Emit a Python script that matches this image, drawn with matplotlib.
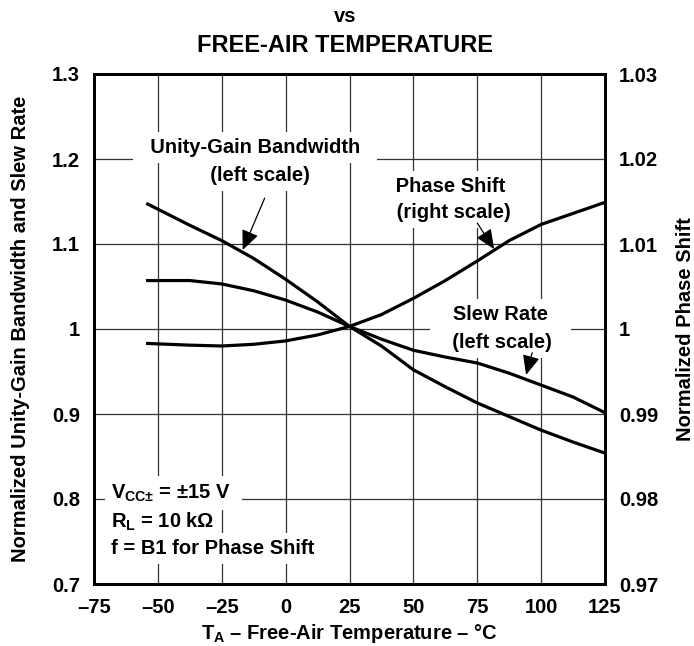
import matplotlib
matplotlib.use("Agg")
import matplotlib.pyplot as plt

plt.rcParams['font.family'] = ['Liberation Sans', 'DejaVu Sans']
plt.rcParams['font.weight'] = 'bold'
plt.rcParams['axes.labelweight'] = 'bold'
plt.rcParams['mathtext.fontset'] = 'custom'
plt.rcParams['mathtext.rm'] = 'Liberation Sans:bold'
plt.rcParams['mathtext.it'] = 'Liberation Sans:bold'
plt.rcParams['mathtext.bf'] = 'Liberation Sans:bold'

# values
temp = [-54, -37.5, -25, -12.5, 0, 12.5, 25, 37.5, 50, 62.5, 75, 87.5, 100, 112.5, 125]
ugb = [1.147, 1.122, 1.104, 1.083, 1.0585, 1.032, 1.003, 0.980, 0.952, 0.932, 0.913, 0.897, 0.881, 0.867, 0.854]
slew = [1.057, 1.057, 1.053, 1.045, 1.034, 1.020, 1.003, 0.988, 0.975, 0.967, 0.960, 0.948, 0.934, 0.920, 0.9015]
phase = [0.9983, 0.9981, 0.9980, 0.9982, 0.9986, 0.9993, 1.0003, 1.0017, 1.0036, 1.0057, 1.0080, 1.0104, 1.0123, 1.0136, 1.0149]

xticks = [-75, -50, -25, 0, 25, 50, 75, 100, 125]
left_ticks = [0.7, 0.8, 0.9, 1.0, 1.1, 1.2, 1.3]
left_labels = ['0.7', '0.8', '0.9', '1', '1.1', '1.2', '1.3']
right_ticks = [0.97, 0.98, 0.99, 1.0, 1.01, 1.02, 1.03]
right_labels = ['0.97', '0.98', '0.99', '1', '1.01', '1.02', '1.03']

fs = 14.5
fig = plt.figure(figsize=(6.94, 6.46), dpi=100)
ax = fig.add_axes([94 / 694, 1 - 584 / 646, 511 / 694, 510 / 646])
ax2 = ax.twinx()

ax.set_xlim(-75, 125)
ax.set_ylim(0.7, 1.3)
ax2.set_ylim(0.97, 1.03)
ax.set_xticks(xticks)
ax.set_xticklabels(['\u2013%d' % -t if t < 0 else str(t) for t in xticks])
ax.set_yticks(left_ticks)
ax.set_yticklabels(left_labels)
ax2.set_yticks(right_ticks)
ax2.set_yticklabels(right_labels)
ax.tick_params(length=0, pad=10, labelsize=fs)
ax2.tick_params(length=0, pad=10, labelsize=fs)

ax.grid(True, color='#333333', lw=0.9)
for a in (ax, ax2):
    for s in a.spines.values():
        s.set_linewidth(2.0)

ax.plot(temp, ugb, color='black', lw=2.3, zorder=4)
ax.plot(temp, slew, color='black', lw=2.3, zorder=4)
ax2.plot(temp, phase, color='black', lw=2.3, zorder=4)

ax.set_xlabel('T$_\\mathregular{A}$ \u2013 Free-Air Temperature \u2013 \u00b0C', fontsize=fs, labelpad=4)
ax.set_ylabel('Normalized Unity-Gain Bandwidth and Slew Rate', fontsize=fs, labelpad=16)
ax2.set_ylabel('Normalized Phase Shift', fontsize=fs, labelpad=13)

fig.text(345 / 694, 1 - 17 / 646, 'vs', ha='center', va='center', fontsize=fs)
fig.text(345 / 694, 1 - 45 / 646, 'FREE-AIR TEMPERATURE', ha='center', va='center', fontsize=17)

box = dict(fc='white', ec='none', boxstyle='square,pad=0.3')
lab = dict(ha='center', va='center', fontsize=fs, bbox=box, zorder=3)
ax.text(-12, 1.214, '  Unity-Gain Bandwidth  ', **lab)
ax.text(-10, 1.181, '  (left scale)  ', **lab)
ax.text(64.6, 1.168, ' Phase Shift ', **lab)
ax.text(65.6, 1.1376, ' (right scale) ', **lab)
ax.text(84, 1.0165, '   Slew Rate   ', **lab)
ax.text(84.8, 0.9847, '  (left scale)  ', **lab)

arrow = dict(arrowstyle='-|>,head_length=0.5,head_width=0.22', color='black', lw=0.9,
             mutation_scale=24, shrinkA=0, shrinkB=0)
ax.annotate('', xy=(-16.8, 1.093), xytext=(-8.2, 1.154), arrowprops=arrow)
ax.annotate('', xy=(81.6, 1.094), xytext=(75, 1.1247), arrowprops=arrow)
ax.annotate('', xy=(94.1, 0.946), xytext=(96.5, 0.972), arrowprops=arrow)

cond = dict(ha='left', va='center', fontsize=fs, bbox=box, zorder=3)
ax.text(-68.4, 0.807, 'V$_\\mathregular{CC\u00b1}$ = \u00b115 V  ', **cond)
ax.text(-68.4, 0.773, 'R$_\\mathregular{L}$ = 10 k\u03a9 ', **cond)
ax.text(-68.4, 0.742, 'f = B1 for Phase Shift ', **cond)

fig.savefig('out.png', dpi=100)
